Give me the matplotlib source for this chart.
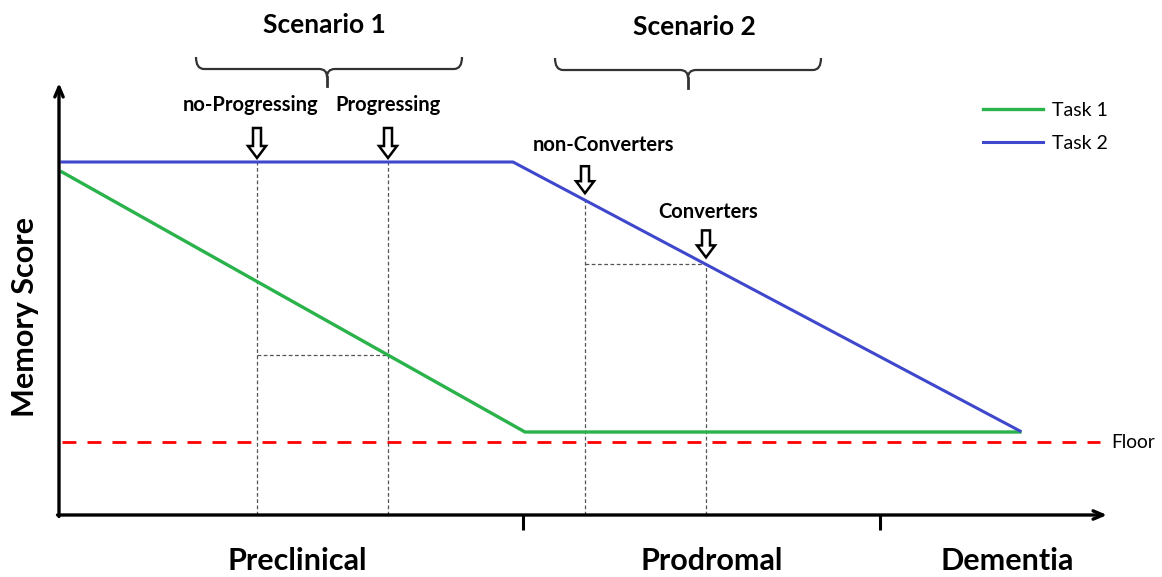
import numpy as np
import matplotlib
matplotlib.use("Agg")
import matplotlib.pyplot as plt
from matplotlib.path import Path
from matplotlib.patches import PathPatch, FancyArrow

plt.rcParams["font.family"] = ["Lato", "DejaVu Sans"]

# data (arbitrary units: disease progression on x, memory score on y)
task1_x = [3, 466, 961]
task1_y = [343, 83, 83]
task2_x = [3, 454, 961]
task2_y = [353, 353, 84]
floor_y = 73
floor_x = [3, 1041]

stage_bounds = [464, 821]
stage_names = ["Preclinical", "Prodromal", "Dementia"]
stage_pos = [238, 653, 948]

scen1_names = ["no-Progressing", "Progressing"]
scen1_x = [198, 329]
scen2_names = ["non-Converters", "Converters"]
scen2_x = [526, 647]

GREEN = "#2ab24b"
BLUE = "#3f48cc"

fig = plt.figure(figsize=(11.62, 5.77), dpi=100)
W, H = 1162, 577
x0, y0 = 59, 515
ax = fig.add_axes([x0 / W, (H - y0) / H, 1048 / W, 430 / H])
ax.set_xlim(0, 1048)
ax.set_ylim(0, 430)
ax.axis("off")

# axes with open arrow heads
arrow_kw = dict(arrowstyle="->,head_width=0.3,head_length=0.7", lw=2.4,
                color="black", shrinkA=0, shrinkB=0)
ax.annotate("", xy=(0, 432), xytext=(0, -1.5), annotation_clip=False,
            arrowprops=arrow_kw)
ax.annotate("", xy=(1048, 0), xytext=(-1.5, 0), annotation_clip=False,
            arrowprops=arrow_kw)
for b in stage_bounds:
    ax.plot([b, b], [0, -15], color="black", lw=2.2, clip_on=False,
            solid_capstyle="butt")
for name, xp in zip(stage_names, stage_pos):
    ax.text(xp, -46, name, ha="center", va="center", fontsize=22,
            fontweight="bold", clip_on=False)

ax.text(-34, 198, "Memory Score", rotation=90, ha="center", va="center",
        fontsize=22, fontweight="bold", clip_on=False)

# guide lines
dot = dict(color="#555555", lw=0.9, ls=(0, (3, 2)))
for xp in scen1_x:
    ax.plot([xp, xp], [0, np.interp(xp, task2_x, task2_y)], **dot)
y_h1 = np.interp(scen1_x[1], task1_x, task1_y)
ax.plot(scen1_x, [y_h1, y_h1], **dot)
for xp in scen2_x:
    ax.plot([xp, xp], [0, np.interp(xp, task2_x, task2_y)], **dot)
y_h2 = np.interp(scen2_x[1], task2_x, task2_y)
ax.plot(scen2_x, [y_h2, y_h2], **dot)

# curves
ax.plot(floor_x, [floor_y, floor_y], color="red", lw=2, ls=(0, (5, 4)))
l1, = ax.plot(task1_x, task1_y, color=GREEN, lw=2.4, label="Task 1")
l2, = ax.plot(task2_x, task2_y, color=BLUE, lw=2.2, label="Task 2")
ax.text(1052, floor_y, "Floor", ha="left", va="center", fontsize=13.8,
        clip_on=False)

fig.legend(handles=[l1, l2], loc="upper left", bbox_to_anchor=(983 / W, 1 - 102 / H),
           frameon=False, fontsize=14, handlelength=3.1, handletextpad=0.45,
           labelspacing=0.8, borderpad=0, borderaxespad=0)


def down_arrow(xp, y_line, gap=5, length=27):
    tip = y_line + gap
    ax.add_patch(FancyArrow(xp, tip + length, 0, -length, width=8, head_width=18,
                            head_length=12, length_includes_head=True,
                            fc="white", ec="black", lw=1.8, clip_on=False,
                            zorder=5))


# scenario 1 markers
for name, xp, dx in zip(scen1_names, scen1_x, [-6, 0]):
    down_arrow(xp, 353, gap=4, length=30)
    ax.text(xp + dx, 410, name, ha="center", va="center", fontsize=14.5,
            fontweight="bold", clip_on=False)
# scenario 2 markers
label_y2 = [370, 303]
for name, xp, ly, dx in zip(scen2_names, scen2_x, label_y2, [18, 2]):
    down_arrow(xp, np.interp(xp, task2_x, task2_y), gap=7, length=27)
    ax.text(xp + dx, ly, name, ha="center", va="center", fontsize=14.5,
            fontweight="bold", clip_on=False)


def brace(xl, xr, xc, yt, yh, ys):
    r = 8
    for xe, s in [(xl, 1), (xr, -1)]:
        verts = [(xe, yt), (xe, yh), (xe + s * r, yh), (xc - s * r, yh),
                 (xc, yh), (xc, yh - r)]
        codes = [Path.MOVETO, Path.CURVE3, Path.CURVE3, Path.LINETO,
                 Path.CURVE3, Path.CURVE3]
        ax.add_patch(PathPatch(Path(verts, codes), fill=False, ec="#333333",
                               lw=1.6, clip_on=False))
    ax.plot([xc, xc], [yh - r, ys], color="#333333", lw=2, clip_on=False)


brace(137, 403, 268, 458, 446, 429)
brace(496, 762, 629, 457, 445, 427)
ax.text(265, 490, "Scenario 1", ha="center", va="center", fontsize=19,
        fontweight="bold", clip_on=False)
ax.text(635, 488, "Scenario 2", ha="center", va="center", fontsize=19,
        fontweight="bold", clip_on=False)

fig.savefig("out.png", dpi=100)
